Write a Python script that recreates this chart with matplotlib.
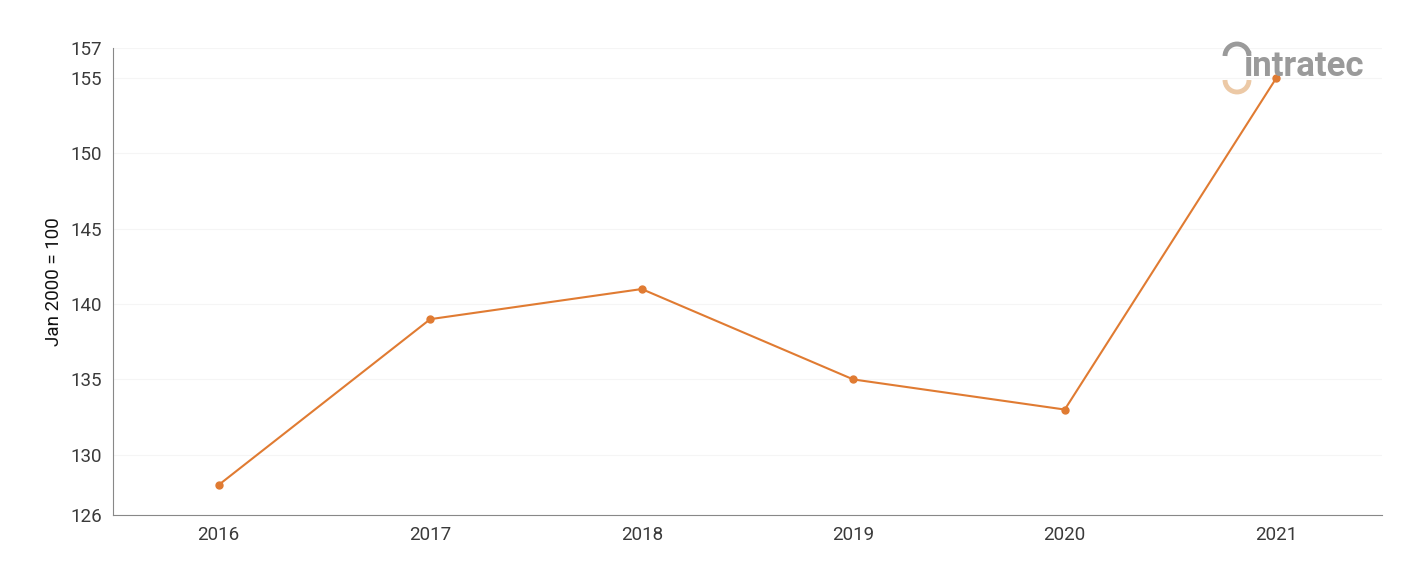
import matplotlib.pyplot as plt
from matplotlib.patches import Arc

years = ['2016', '2017', '2018', '2019', '2020', '2021']
index_values = [128, 139, 141, 135, 133, 155]
y_ticks = [126, 130, 135, 140, 145, 150, 155, 157]

plt.rcParams['font.family'] = ['Roboto', 'DejaVu Sans']

fig = plt.figure(figsize=(14.01, 5.61), dpi=100)
ax = fig.add_axes([113 / 1401, 46 / 561, 1269 / 1401, 467 / 561])

x = range(len(years))
ax.plot(x, index_values, color='#e07b32', linewidth=1.5, marker='o', markersize=5, zorder=3)

ax.set_xlim(-0.5, len(years) - 0.5)
ax.set_ylim(126, 157)
ax.set_xticks(list(x))
ax.set_xticklabels(years)
ax.set_yticks(y_ticks)
ax.tick_params(axis='both', length=0, labelsize=13.5, labelcolor='#3a3a3a', pad=8)

ax.grid(axis='y', color='#f5f5f5', linewidth=0.8)
ax.set_axisbelow(True)
for side in ['top', 'right']:
    ax.spines[side].set_visible(False)
ax.spines['left'].set_color('#888888')
ax.spines['bottom'].set_color('#888888')

ax.set_ylabel('Jan 2000 = 100', fontsize=13.5, color='#111111', labelpad=5)

# logo
fig.text(1243 / 1401, 1 - 67 / 561, 'intratec', fontsize=25, color='#9a9a9a',
         fontweight='bold', ha='left', va='center')
fig.patches.append(Arc((1237 / 1401, 1 - 56 / 561), 24 / 1401, 24 / 561,
                       theta1=0, theta2=180, color='#9a9a9a', linewidth=3.5,
                       transform=fig.transFigure))
fig.patches.append(Arc((1237 / 1401, 1 - 80 / 561), 24 / 1401, 24 / 561,
                       theta1=180, theta2=360, color='#ecc9a6', linewidth=3.5,
                       transform=fig.transFigure))

fig.savefig('out.png', dpi=100)
